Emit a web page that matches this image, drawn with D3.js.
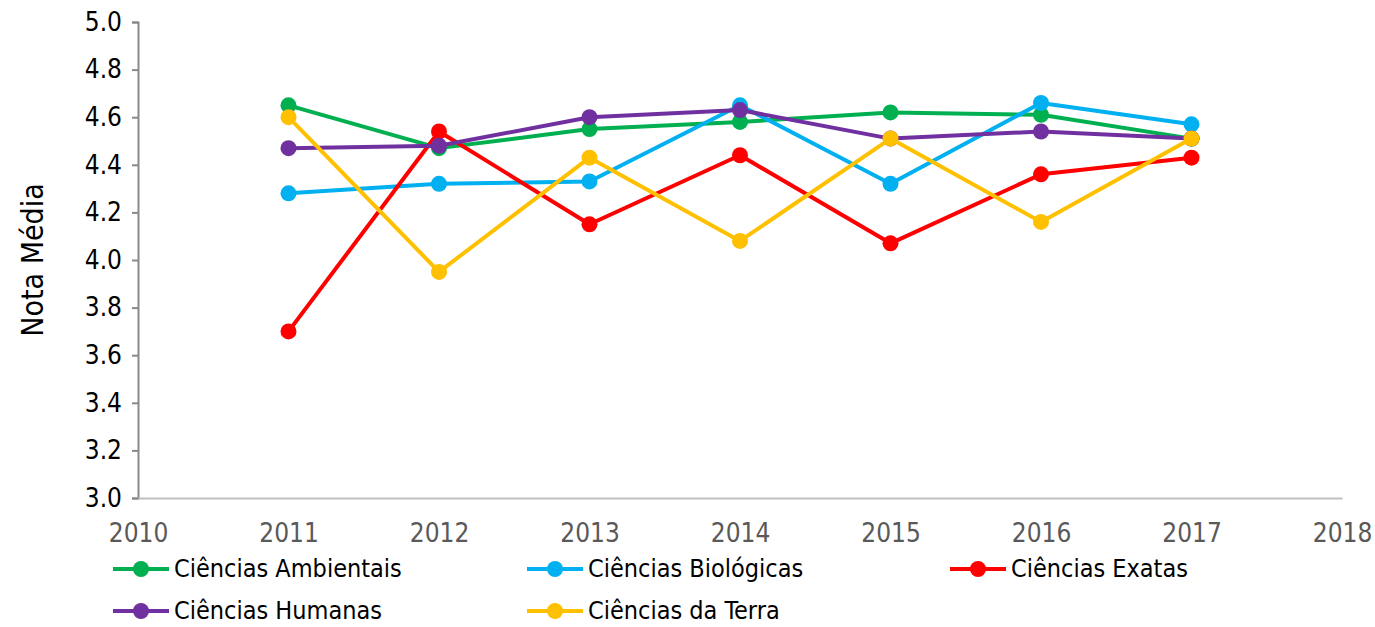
<!DOCTYPE html>
<html>
<head>
<meta charset="utf-8">
<script src="https://cdn.jsdelivr.net/npm/d3@7"></script>
<style>
  body { margin: 0; background: white; }
  text { font-family: "DejaVu Sans Condensed", "DejaVu Sans", sans-serif; }
</style>
</head>
<body>
<div id="chart"></div>
<script>
// dados
const years = [2011, 2012, 2013, 2014, 2015, 2016, 2017];
const seriesNames = ["Ciências Ambientais", "Ciências Biológicas", "Ciências Exatas", "Ciências Humanas", "Ciências da Terra"];
const seriesColors = ["#00B050", "#00B0F0", "#FF0000", "#7030A0", "#FFC000"];
const ambientais = [4.65, 4.47, 4.55, 4.58, 4.62, 4.61, 4.51];
const biologicas = [4.28, 4.32, 4.33, 4.65, 4.32, 4.66, 4.57];
const exatas     = [3.70, 4.54, 4.15, 4.44, 4.07, 4.36, 4.43];
const humanas    = [4.47, 4.48, 4.60, 4.63, 4.51, 4.54, 4.51];
const terra      = [4.60, 3.95, 4.43, 4.08, 4.51, 4.16, 4.51];
const yTicks = [3.0, 3.2, 3.4, 3.6, 3.8, 4.0, 4.2, 4.4, 4.6, 4.8, 5.0];
const xTicks = [2010, 2011, 2012, 2013, 2014, 2015, 2016, 2017, 2018];

const allValues = [ambientais, biologicas, exatas, humanas, terra];
const series = seriesNames.map((name, i) => ({
  name, color: seriesColors[i],
  values: years.map((yr, j) => ({ year: yr, v: allValues[i][j] }))
}));

const W = 1375, H = 627;
const margin = { top: 22, right: 33, bottom: 129, left: 138 };

const svg = d3.select("#chart").append("svg")
  .attr("width", W).attr("height", H);

const x = d3.scaleLinear().domain([2010, 2018]).range([margin.left, W - margin.right]);
const y = d3.scaleLinear().domain([3, 5]).range([H - margin.bottom, margin.top]);

// eixo Y
const yAxis = svg.append("g")
  .attr("transform", `translate(${margin.left},0)`)
  .call(d3.axisLeft(y).tickValues(yTicks).tickFormat(d3.format(".1f")).tickSize(6).tickPadding(10));
yAxis.select(".domain").attr("stroke", "#898989").attr("stroke-width", 2);
yAxis.selectAll(".tick line").attr("stroke", "#898989").attr("stroke-width", 2);
yAxis.selectAll("text").attr("fill", "#000").style("font-size", "26px");

// eixo X
const xAxis = svg.append("g")
  .attr("transform", `translate(0,${H - margin.bottom})`)
  .call(d3.axisBottom(x).tickValues(xTicks).tickFormat(d3.format("d")).tickSize(0).tickPadding(26));
xAxis.select(".domain").attr("stroke", "#bfbfbf").attr("stroke-width", 2);
xAxis.selectAll("text").attr("fill", "#595959").style("font-size", "26px");

// título do eixo Y
svg.append("text")
  .attr("transform", `translate(43,${(margin.top + H - margin.bottom) / 2}) rotate(-90)`)
  .attr("text-anchor", "middle")
  .style("font-size", "30px")
  .attr("fill", "#000")
  .text("Nota Média");

// linhas e marcadores
const line = d3.line().x(d => x(d.year)).y(d => y(d.v));
series.forEach(s => {
  svg.append("path").datum(s.values)
    .attr("fill", "none")
    .attr("stroke", s.color)
    .attr("stroke-width", 4)
    .attr("stroke-linejoin", "round")
    .attr("d", line);
  svg.selectAll(null).data(s.values).enter().append("circle")
    .attr("cx", d => x(d.year))
    .attr("cy", d => y(d.v))
    .attr("r", 8)
    .attr("fill", s.color);
});

// legenda
const legendPos = [[113, 569], [527, 569], [950, 569], [113, 611], [527, 611]];
series.forEach((s, i) => {
  const [lx, ly] = legendPos[i];
  const g = svg.append("g").attr("transform", `translate(${lx},${ly})`);
  g.append("line").attr("x1", 0).attr("x2", 56).attr("y1", 0).attr("y2", 0)
    .attr("stroke", s.color).attr("stroke-width", 4);
  g.append("circle").attr("cx", 28).attr("cy", 0).attr("r", 8).attr("fill", s.color);
  g.append("text").attr("x", 61).attr("y", 0).attr("dy", "0.33em")
    .style("font-size", "25px").attr("fill", "#000").text(s.name);
});
</script>
</body>
</html>
